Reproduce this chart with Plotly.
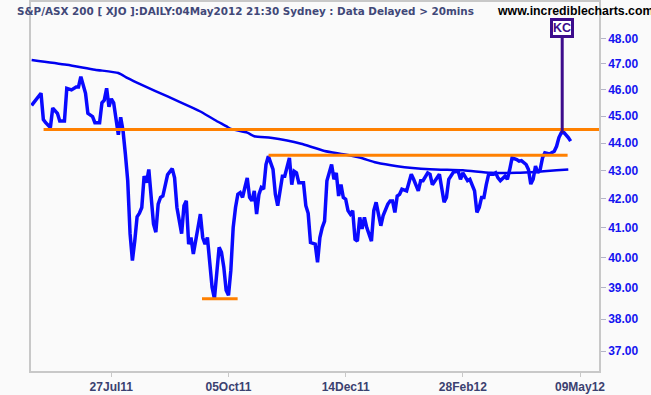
import math
import plotly.graph_objects as go

# ---- data (trading-day index) ----
price_day = [0,4,5,6,8,9,11,12,14,15,17,19,20,21,23,24,26,27,29,30,31,32,33,34,35,36,37,38,39,40,
             41,42,43,44,45,46,47,48,49,50,51,52,53,54,55,56,58,60,61,62,64,65,66,67,68,69,71,72,73,74,
             75,76,77,78,79,80,81,82,83,84,85,86,87,88,89,90,91,92,93,94,95,96,97,98,99,100,101,103,104,105,
             107,108,110,111,112,113,114,116,117,118,119,121,122,123,124,125,126,128,129,130,131,132,133,134,135,136,137,138,
             139,140,141,142,143,144,145,146,147,148,149,150,152,153,154,155,156,157,158,160,161,162,163,164,165,166,
             167,169,170,171,173,174,176,177,178,180,182,183,184,186,187,189,190,191,192,193,194,195,197,198,199,200,
             202,203,204,205,207,208,209,211,212,213,214,215,216,217,218,219,221,222,223,224,225,226,227,229,230]
price_close = [45.40,45.86,44.87,44.75,44.57,45.30,45.10,44.81,44.81,46.05,45.99,46.10,46.10,46.50,45.86,45.10,44.98,44.75,44.75,45.50,
               45.60,46.05,45.35,45.65,45.50,44.98,44.30,44.95,44.45,43.60,42.64,40.80,39.90,40.55,41.38,41.50,41.70,42.80,42.57,43.04,
               42.05,41.13,40.85,41.82,42.05,42.10,42.85,43.07,42.74,41.70,40.80,41.76,41.93,40.45,40.67,40.12,41.01,41.47,40.67,40.45,
               40.67,39.79,39.02,38.65,39.36,40.34,40.17,39.68,38.92,38.76,39.57,41.01,41.70,42.16,42.22,42.05,42.40,42.74,42.05,41.93,
               42.28,41.47,42.16,42.40,42.34,43.22,43.52,43.04,42.16,41.76,42.80,42.80,43.46,42.50,42.98,42.92,42.57,42.57,41.76,41.50,
               40.50,40.45,39.84,40.67,41.01,41.23,42.64,43.22,42.69,42.92,42.10,42.50,42.05,41.99,41.59,41.47,41.59,40.61,40.55,41.36,
               40.96,41.36,41.01,40.80,40.55,41.59,41.88,41.47,41.07,41.42,41.82,41.93,41.93,41.53,42.10,42.16,42.34,42.28,42.64,42.87,
               42.69,42.50,42.28,42.64,42.64,42.92,42.87,42.50,42.74,42.87,41.88,42.05,42.69,42.95,42.98,42.69,42.92,42.64,42.69,42.28,
               41.53,41.70,42.05,42.05,42.50,42.87,42.87,42.92,42.74,42.64,42.80,42.69,43.04,43.46,43.40,43.34,43.36,43.22,43.04,42.52,
               42.69,43.16,42.92,43.04,43.46,43.64,43.60,43.64,43.70,43.88,44.20,44.38,44.40,44.20,44.07]

ma_day = [0,15,27,37,41,47,58,69,72,78,83,85,92,95,102,109,115,125,133,140,147,156,170,184,196,207,216,224,229]
ma_value = [47.15,46.96,46.77,46.64,46.44,46.18,45.74,45.30,45.17,44.86,44.62,44.52,44.38,44.25,44.19,44.09,43.97,
            43.71,43.59,43.47,43.29,43.16,43.05,43.01,42.92,42.92,42.96,43.01,43.04]

# horizontal support / resistance lines: level, start day, end day
level_value = [44.50, 43.55, 38.65]
level_start = [5.1, 101.1, 72.7]
level_end = [242.1, 228.7, 87.9]

marker_day = 226.4
marker_value = 44.37
marker_text = "KC"

tick_days = [34, 84, 134, 184, 234]
tick_labels = ["27Jul11", "05Oct11", "14Dec11", "28Feb12", "09May12"]
ytick_values = [37, 38, 39, 40, 41, 42, 43, 44, 45, 46, 47, 48]
ytick_labels = ["%.2f" % v for v in ytick_values]

title_text = "S&P/ASX 200 [ XJO ]:DAILY:04May2012 21:30 Sydney : Data Delayed > 20mins"
site_text = "www.incrediblecharts.com"

# ---- figure ----
FONT = "Liberation Sans, Arial, sans-serif"
WIDE = "DejaVu Sans, Verdana, sans-serif"
BLUE = "#0a0aff"
ORANGE = "#ff8000"
PURPLE = "#3d0c8c"
GRID = "#c8c8c8"

fig = go.Figure()
fig.add_trace(go.Scatter(x=ma_day, y=ma_value, mode="lines",
                         line=dict(color="#0000f0", width=2.5, shape="spline", smoothing=0.6),
                         hoverinfo="skip", showlegend=False))
fig.add_trace(go.Scatter(x=price_day, y=price_close, mode="lines",
                         line=dict(color=BLUE, width=3.5),
                         hoverinfo="skip", showlegend=False))
for v, s, e in zip(level_value, level_start, level_end):
    fig.add_trace(go.Scatter(x=[s, e], y=[v, v], mode="lines",
                             line=dict(color=ORANGE, width=3),
                             hoverinfo="skip", showlegend=False))

fig.add_annotation(x=marker_day, y=math.log10(marker_value), xref="x", yref="y",
                   text="<b>%s</b>" % marker_text, showarrow=True, arrowhead=0,
                   arrowwidth=3, arrowcolor=PURPLE, ax=0, ay=-105, standoff=0,
                   font=dict(family=FONT, size=12.5, color=PURPLE),
                   bgcolor="white", bordercolor=PURPLE, borderwidth=3, borderpad=0)

fig.add_annotation(x=(15 - 30.7) / 568, y=1 - 9.5 / 371, xref="paper", yref="paper",
                   xanchor="left", yanchor="middle", showarrow=False,
                   text="<b>%s</b>" % title_text,
                   font=dict(family=WIDE, size=10.4, color="#414878"))
fig.add_annotation(x=(495 - 30.7) / 568, y=1 - 9.5 / 371, xref="paper", yref="paper",
                   xanchor="left", yanchor="middle", showarrow=False,
                   text="<b>%s</b>" % site_text,
                   font=dict(family=FONT, size=12.3, color="#000000"))

fig.update_layout(
    width=651, height=395,
    margin=dict(l=30.7, r=52.3, t=0, b=24),
    paper_bgcolor="#fafafa", plot_bgcolor="#fafafa",
    showlegend=False,
    xaxis=dict(range=[-0.27, 242.1], tickvals=tick_days, ticktext=tick_labels,
               showgrid=False, zeroline=False, showline=True, linecolor=GRID, linewidth=1.5,
               mirror=True, ticks="outside", ticklen=4, tickcolor=GRID,
               tickfont=dict(family=FONT, size=12, color="#3b4170", weight="bold")),
    yaxis=dict(type="log", range=[1.561008, 1.694442], side="right",
               tickvals=ytick_values, ticktext=ytick_labels,
               showgrid=False, zeroline=False, showline=True, linecolor=GRID, linewidth=1.5,
               mirror=True, ticks="outside", ticklen=5, tickcolor="#b4b4c8",
               tickfont=dict(family=FONT, size=12, color="#1414f0", weight="bold")),
)

fig.write_html("out.html", config={"displayModeBar": False},
               post_script="document.body.style.margin='0';document.body.style.overflow='hidden';")
